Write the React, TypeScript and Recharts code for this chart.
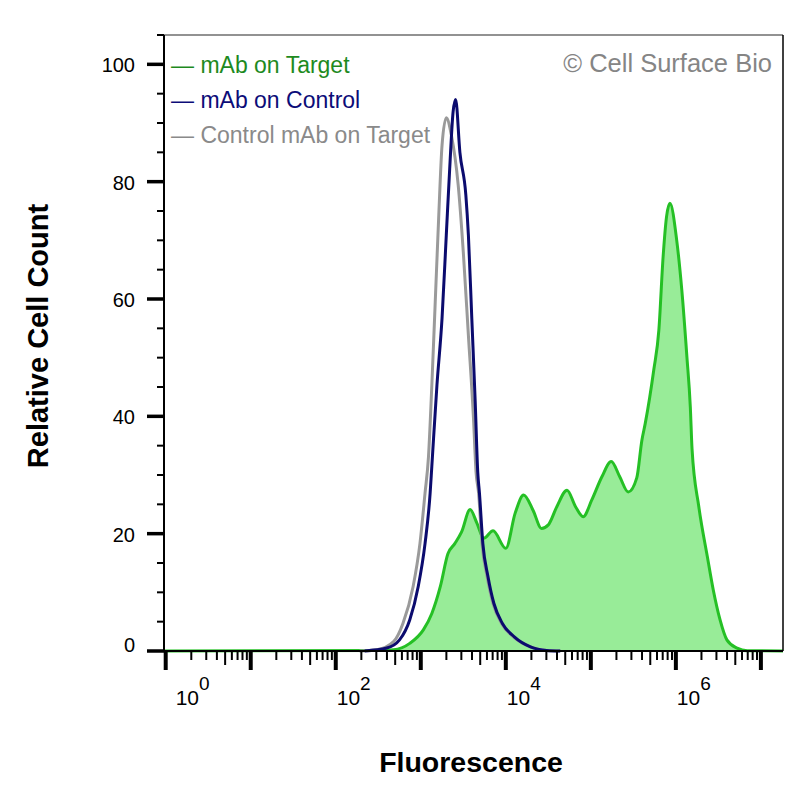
import React from "react";
import { Area, ComposedChart, Line, ReferenceLine, XAxis, YAxis } from "recharts";

// x values are log10(fluorescence), y values are relative cell count
const TARGET_X = [
  -0.02, 2.52, 2.68, 2.87, 3.03, 3.13, 3.23, 3.32, 3.4, 3.48, 3.58, 3.66, 3.74, 3.85, 4.0, 4.11, 4.21,
  4.32, 4.42, 4.5, 4.6, 4.72, 4.82, 4.91, 5.01, 5.13, 5.24, 5.34, 5.44, 5.54, 5.6, 5.64, 5.74, 5.8,
  5.85, 5.89, 5.93, 6.01, 6.07, 6.13, 6.17, 6.19, 6.27, 6.37, 6.44, 6.52, 6.6, 6.72, 6.84, 7.26,
];
const TARGET_Y = [
  0, 0.1, 0.2, 1.3, 3.6, 6.4, 11, 16.6, 18.3, 20.3, 24.1, 21.8, 19.2, 20.5, 17.5, 23.5, 26.6, 24,
  20.9, 21.5, 24.6, 27.4, 24.6, 22.9, 25.7, 29.7, 32.3, 29.7, 27.1, 29.5, 35.9, 38.8, 47.9, 54.7,
  67.2, 74, 76.3, 70, 61.5, 50.1, 41.6, 34.5, 24.6, 16.1, 10.4, 5.3, 1.9, 0.5, 0.05, 0,
];

const CONTROL_X = [
  2.34, 2.6, 2.75, 2.87, 2.97, 3.05, 3.11, 3.13, 3.19, 3.25, 3.3, 3.34, 3.38, 3.41, 3.46, 3.53, 3.56,
  3.6, 3.64, 3.67, 3.69, 3.73, 3.79, 3.86, 3.96, 4.1, 4.29, 4.48, 4.64,
];
const CONTROL_Y = [
  0, 0.5, 1.9, 5.3, 11, 18.3, 26.9, 31.5, 45.3, 56.7, 70.9, 82.2, 91.9, 94, 85, 77.7, 70.9, 56.7,
  42.5, 30.5, 26.9, 18.3, 12.7, 8.1, 4.7, 2.4, 0.7, 0.1, 0,
];

const ISOTYPE_X = [
  2.28, 2.48, 2.68, 2.79, 2.91, 2.99, 3.05, 3.09, 3.13, 3.17, 3.21, 3.25, 3.3, 3.36, 3.44, 3.5, 3.56,
  3.62, 3.65, 3.68, 3.72, 3.78, 3.85, 3.95, 4.09, 4.29, 4.48, 4.64,
];
const ISOTYPE_Y = [
  0, 0.2, 1.6, 4.7, 11, 18.3, 26.9, 33, 45.3, 59.5, 73.7, 86.2, 90.9, 87.9, 79.4, 68, 53.8, 39.6,
  30.5, 26.9, 18.3, 12.7, 8.1, 4.7, 2.4, 0.7, 0.1, 0,
];

const X_MIN = -0.02;
const X_MAX = 7.26;
const DECADES = [0, 1, 2, 3, 4, 5, 6, 7];
const LABELED_DECADES = [0, 2, 4, 6];
const MINOR_STEPS = [2, 3, 4, 5, 6, 7, 8, 9];

const Y_MAX = 105;
const Y_TICKS = [0, 5, 10, 15, 20, 25, 30, 35, 40, 45, 50, 55, 60, 65, 70, 75, 80, 85, 90, 95, 100, 105];
const Y_LABELED = [0, 20, 40, 60, 80, 100];

const FONT = "'Liberation Sans', Arial, Helvetica, sans-serif";

const toPoints = (xs: number[], ys: number[]) => xs.map((x, i) => ({ x, y: ys[i] }));

const targetData = toPoints(TARGET_X, TARGET_Y);
const controlData = toPoints(CONTROL_X, CONTROL_Y);
const isotypeData = toPoints(ISOTYPE_X, ISOTYPE_Y);

// log-style ticks: decades, the 5s a bit longer, the rest short
const tickKind = new Map<number, "major" | "mid" | "minor">();
DECADES.forEach((d) => {
  tickKind.set(d, "major");
  MINOR_STEPS.forEach((k) => {
    const v = d + Math.log10(k);
    if (v <= X_MAX) tickKind.set(v, k === 5 ? "mid" : "minor");
  });
});
const X_TICKS = Array.from(tickKind.keys()).sort((a, b) => a - b);

function XTick(props: any) {
  const { x, y, payload } = props;
  const v = payload.value as number;
  const kind = tickKind.get(v);
  const len = kind === "major" ? 19 : kind === "mid" ? 14 : 9;
  const w = kind === "major" ? 4 : 2;
  const labelled = kind === "major" && LABELED_DECADES.includes(v);
  return (
    <g>
      <line x1={x} x2={x} y1={y} y2={y + len} stroke="#000" strokeWidth={w} />
      {labelled && (
        <text x={x + (v === 0 ? 10 : 1)} y={y + 54} fontFamily={FONT} fontSize={21} fill="#000">
          10
          <tspan dy={-15} fontSize={19}>
            {v}
          </tspan>
        </text>
      )}
    </g>
  );
}

function YTick(props: any) {
  const { x, y, payload } = props;
  const v = payload.value as number;
  const major = Y_LABELED.includes(v);
  return (
    <g>
      <line
        x1={x - (major ? 17 : 7)}
        x2={x}
        y1={y}
        y2={y}
        stroke="#000"
        strokeWidth={major ? 3.5 : 2}
      />
      {major && (
        <text
          x={x - 29}
          y={y + (v === 0 ? 1 : 8)}
          textAnchor="end"
          fontFamily={FONT}
          fontSize={20}
          fill="#000"
        >
          {v}
        </text>
      )}
    </g>
  );
}

export default function App() {
  return (
    <div style={{ position: "absolute", left: 0, top: 0, width: 800, height: 800, background: "#fff" }}>
      <ComposedChart width={800} height={800} margin={{ top: 35, right: 17, bottom: 0, left: 0 }}>
        <XAxis
          type="number"
          dataKey="x"
          domain={[X_MIN, X_MAX]}
          ticks={X_TICKS}
          interval={0}
          height={149}
          tickSize={0}
          tickMargin={0}
          tickLine={false}
          tick={(p: any) => <XTick {...p} />}
          axisLine={{ stroke: "#000", strokeWidth: 2 }}
        />
        <YAxis
          type="number"
          dataKey="y"
          domain={[0, Y_MAX]}
          ticks={Y_TICKS}
          interval={0}
          width={164}
          tickSize={0}
          tickMargin={0}
          tickLine={false}
          tick={(p: any) => <YTick {...p} />}
          axisLine={{ stroke: "#000", strokeWidth: 2 }}
        />
        <ReferenceLine y={Y_MAX} stroke="#6e6e6e" strokeWidth={1.5} />
        <ReferenceLine x={X_MAX} stroke="#000" strokeWidth={1.5} />
        <Area
          data={targetData}
          dataKey="y"
          type="monotone"
          stroke="#25c025"
          strokeWidth={3}
          fill="#98ec98"
          fillOpacity={1}
          dot={false}
          activeDot={false}
          isAnimationActive={false}
        />
        <Line
          data={isotypeData}
          dataKey="y"
          type="monotone"
          stroke="#9a9a9a"
          strokeWidth={3}
          dot={false}
          activeDot={false}
          isAnimationActive={false}
        />
        <Line
          data={controlData}
          dataKey="y"
          type="monotone"
          stroke="#0b0b6e"
          strokeWidth={3}
          dot={false}
          activeDot={false}
          isAnimationActive={false}
        />
      </ComposedChart>
      <svg
        width={800}
        height={800}
        style={{ position: "absolute", left: 0, top: 0, pointerEvents: "none" }}
        fontFamily={FONT}
      >
        <text x={171} y={73} fontSize={23} fill="#1e8a1e">
          — mAb on Target
        </text>
        <text x={171} y={108} fontSize={23} fill="#0c0c78">
          — mAb on Control
        </text>
        <text x={171} y={143} fontSize={23} fill="#8a8a8a">
          — Control mAb on Target
        </text>
        <text x={772} y={72} fontSize={25.5} fill="#858585" textAnchor="end">
          © Cell Surface Bio
        </text>
        <text
          x={38}
          y={336}
          fontSize={29}
          fontWeight="bold"
          textAnchor="middle"
          dominantBaseline="central"
          transform="rotate(-90 38 336)"
        >
          Relative Cell Count
        </text>
        <text x={471} y={772} fontSize={28.5} fontWeight="bold" textAnchor="middle">
          Fluorescence
        </text>
      </svg>
    </div>
  );
}
